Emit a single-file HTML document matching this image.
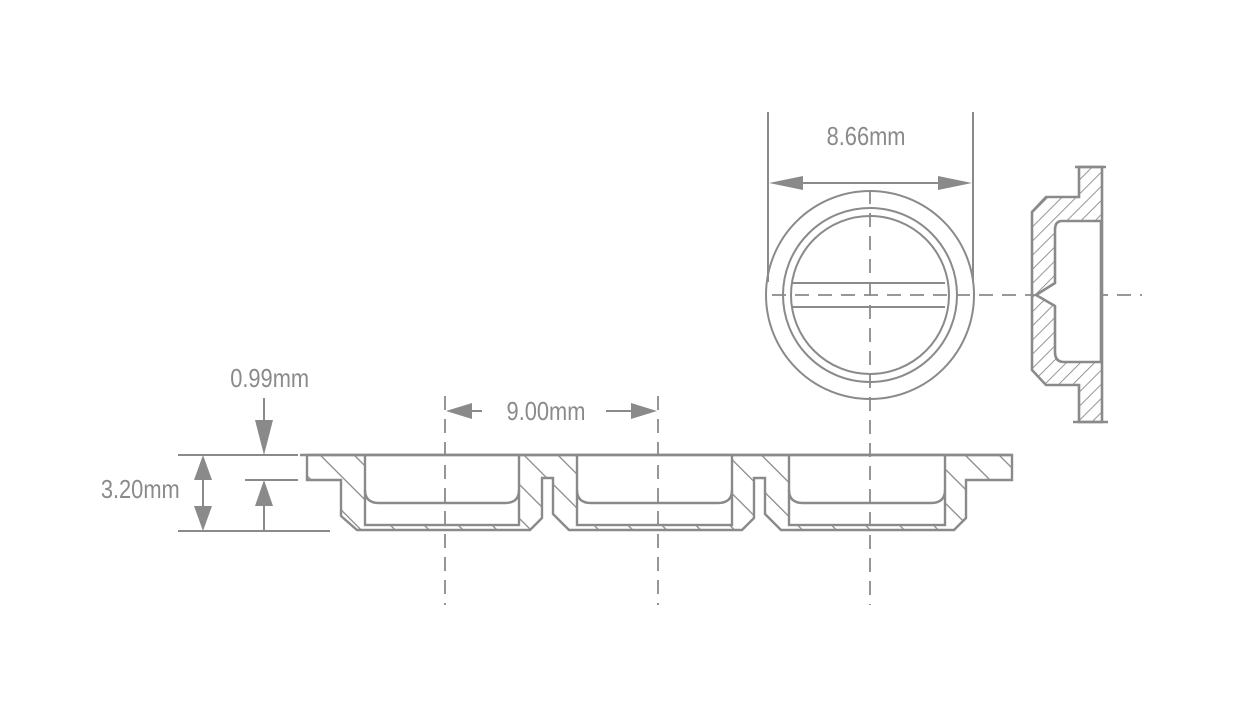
<!DOCTYPE html>
<html><head><meta charset="utf-8"><style>
html,body{margin:0;padding:0;background:#fff;}
svg{display:block;}
text{font-family:"Liberation Sans",sans-serif;fill:#8a8a8a;font-size:26px;}
</style></head><body>
<svg width="1240" height="719" viewBox="0 0 1240 719" xmlns="http://www.w3.org/2000/svg">
<defs>
<pattern id="h1" patternUnits="userSpaceOnUse" width="24" height="24" patternTransform="rotate(-45)">
<line x1="0" y1="0" x2="0" y2="24" stroke="#8a8a8a" stroke-width="2.6"/>
</pattern>
<pattern id="h2" patternUnits="userSpaceOnUse" width="10" height="10" patternTransform="rotate(45)">
<line x1="0" y1="0" x2="0" y2="10" stroke="#8a8a8a" stroke-width="1.8"/>
</pattern>
</defs>
<g stroke="#8a8a8a" fill="none" stroke-width="2.4">
<path fill="url(#h1)" d="M307,455 H1012 V480 H966 V518 L954,530 H781 L765,514 V478 H754 V518 L742,530 H569 L553,514 V478 H542 V518 L530,530 H357 L341,516 V480 H307 Z"/>
<g fill="#fff">
<rect x="365" y="455" width="154" height="70"/>
<rect x="577" y="455" width="155" height="70"/>
<rect x="789" y="455" width="156" height="70"/>
</g>
<path d="M365,490 Q365,503 379,503 H505 Q519,503 519,490"/>
<path d="M577,490 Q577,503 591,503 H718 Q732,503 732,490"/>
<path d="M789,490 Q789,503 803,503 H931 Q945,503 945,490"/>
<line x1="300" y1="455" x2="1012" y2="455"/>
<g stroke-dasharray="14,9" stroke-width="1.8">
<line x1="445" y1="396" x2="445" y2="605"/>
<line x1="658" y1="396" x2="658" y2="605"/>
<line x1="870" y1="190" x2="870" y2="605"/>
<line x1="772" y1="295" x2="1142" y2="295"/>
</g>
<g stroke-width="2">
<line x1="178" y1="455" x2="298" y2="455"/>
<line x1="245" y1="480" x2="298" y2="480"/>
<line x1="178" y1="531" x2="330" y2="531"/>
<line x1="203" y1="470" x2="203" y2="515"/>
<line x1="264" y1="398" x2="264" y2="425"/>
<line x1="264" y1="505" x2="264" y2="531"/>
<line x1="465" y1="411" x2="482" y2="411"/>
<line x1="606" y1="411" x2="640" y2="411"/>
<line x1="768" y1="112" x2="768" y2="282"/>
<line x1="973" y1="112" x2="973" y2="282"/>
<line x1="795" y1="183" x2="946" y2="183"/>
<circle cx="870" cy="295" r="104"/>
<circle cx="870" cy="295" r="87"/>
<circle cx="870" cy="295" r="79"/>
<line x1="792" y1="283" x2="945" y2="283"/>
<line x1="792" y1="307" x2="945" y2="307"/>
</g>
<path stroke-width="2.6" fill="url(#h2)" d="M1079,167 H1102 V422 H1079 V385 H1046 L1032,370 V212 L1046,197 H1079 Z"/>
<path stroke-width="2.6" fill="#fff" d="M1101,221 H1062 Q1055,221 1055,230 V283 L1036,295 L1055,306 V352 Q1055,362 1064,362 H1101 Z"/>
<line x1="1075" y1="167" x2="1106" y2="167"/>
<line x1="1073" y1="422" x2="1108" y2="422"/>
</g>
<g fill="#8a8a8a">
<polygon points="203,455 194,480 212,480"/>
<polygon points="203,531 194,506 212,506"/>
<polygon points="264,455 255,420 273,420"/>
<polygon points="264,480 255,506 273,506"/>
<polygon points="446,411 472,403 472,419"/>
<polygon points="657,411 631,403 631,419"/>
<polygon points="769,183 803,176 803,190"/>
<polygon points="972,183 938,176 938,190"/>
</g>
<g transform="scale(0.84,1)">
<text x="1031" y="145" text-anchor="middle">8.66mm</text>
<text x="650" y="420" text-anchor="middle">9.00mm</text>
<text x="321" y="387" text-anchor="middle">0.99mm</text>
<text x="167" y="498" text-anchor="middle">3.20mm</text>
</g>
</svg>
</body></html>
